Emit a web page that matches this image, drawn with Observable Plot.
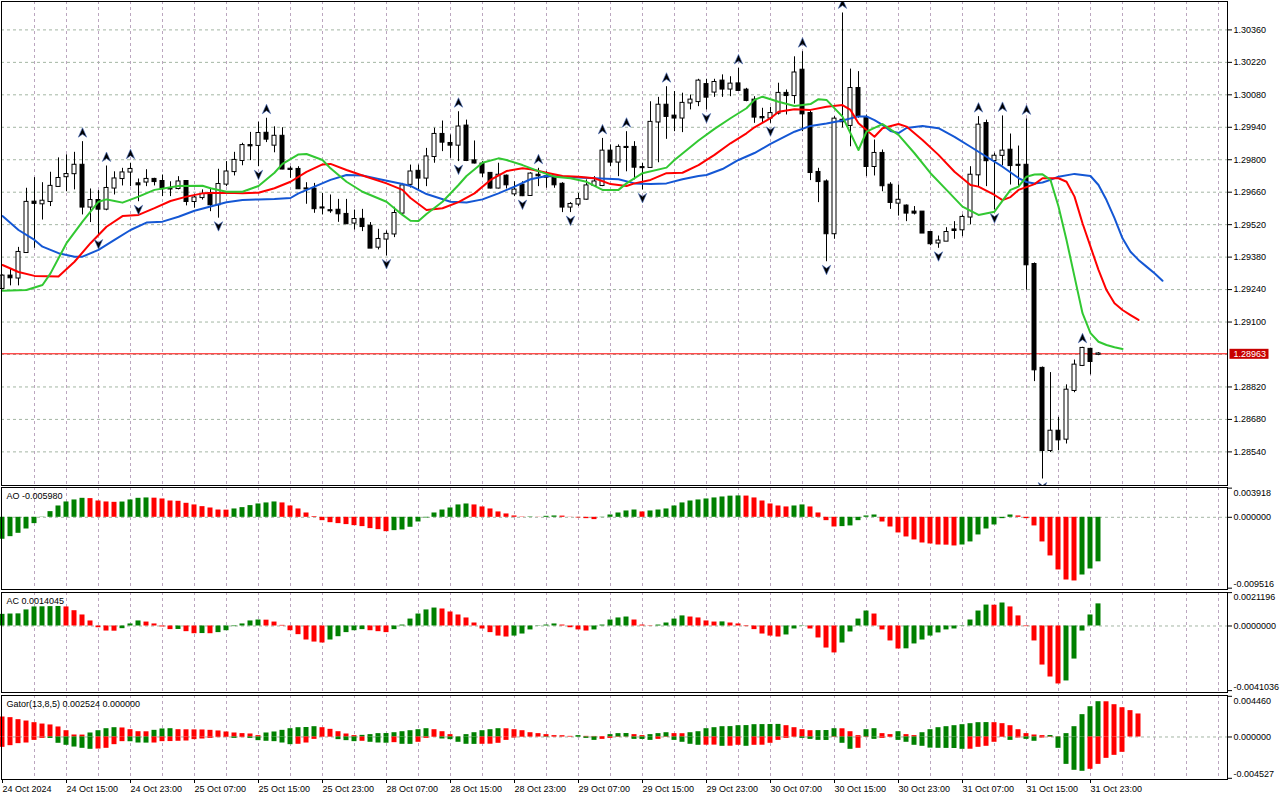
<!DOCTYPE html>
<html><head><meta charset="utf-8">
<script src="https://cdn.jsdelivr.net/npm/d3@7"></script>
<script src="https://cdn.jsdelivr.net/npm/@observablehq/plot@0.6"></script>
<style>
body{margin:0;background:#fff;}
#chart{position:relative;width:1280px;height:800px;overflow:hidden;background:#fff;}
</style>
</head><body><div id="chart"></div>
<script>
// ---------- DATA (H1 bars, 24 Oct 2024 07:00 ... 1 Nov 00:00) ----------
const open = [1.29244,1.29299,1.29289,1.29399,1.29618,1.29609,1.29619,1.29684,1.29726,1.29739,
1.29777,1.29595,1.29625,1.29586,1.29677,1.29718,1.29746,1.29697,1.29703,1.29716,
1.29707,1.29674,1.29675,1.29707,1.29619,1.29636,1.29655,1.29605,1.29694,1.29748,
1.29796,1.29862,1.29861,1.29915,1.29862,1.29902,1.29760,1.29759,1.29675,1.29674,
1.29593,1.29581,1.29583,1.29565,1.29526,1.29544,1.29514,1.29422,1.29457,1.29479,
1.29569,1.29693,1.29751,1.29720,1.29813,1.29910,1.29871,1.29862,1.29946,1.29796,
1.29782,1.29742,1.29677,1.29730,1.29652,1.29691,1.29645,1.29734,1.29727,1.29720,
1.29695,1.29595,1.29608,1.29629,1.29688,1.29688,1.29838,1.29789,1.29854,1.29854,
1.29767,1.29766,1.29962,1.30036,1.29989,1.29979,1.30044,1.30050,1.30125,1.30091,
1.30140,1.30104,1.30128,1.30101,1.30058,1.29983,1.29979,1.30000,1.30087,1.30076,
1.30187,1.30000,1.29746,1.29705,1.29480,1.29971,1.29947,1.30108,1.29979,1.29770,
1.29828,1.29691,1.29612,1.29601,1.29575,1.29575,1.29487,1.29440,1.29448,1.29498,
1.29497,1.29552,1.29734,1.29957,1.29796,1.29818,1.29842,1.29777,1.29777,1.29349,
1.28901,1.28545,1.28630,1.28594,1.28804,1.28912,1.28983,1.28960];
const high = [1.29303,1.29329,1.29422,1.29677,1.29723,1.29701,1.29746,1.29808,1.29821,1.29832,
1.29878,1.29674,1.29667,1.29773,1.29748,1.29763,1.29785,1.29717,1.29757,1.29720,
1.29734,1.29705,1.29727,1.29708,1.29651,1.29670,1.29677,1.29759,1.29792,1.29832,
1.29871,1.29918,1.29962,1.29979,1.29942,1.29938,1.29770,1.29770,1.29701,1.29698,
1.29655,1.29648,1.29629,1.29629,1.29583,1.29586,1.29529,1.29500,1.29493,1.29595,
1.29698,1.29777,1.29777,1.29849,1.29936,1.29967,1.29907,1.30007,1.29971,1.29881,
1.29792,1.29744,1.29785,1.29734,1.29705,1.29705,1.29744,1.29763,1.29748,1.29727,
1.29701,1.29615,1.29655,1.29713,1.29727,1.29892,1.29864,1.29864,1.29921,1.29878,
1.29785,1.30050,1.30069,1.30115,1.30094,1.30087,1.30079,1.30147,1.30147,1.30147,
1.30166,1.30158,1.30194,1.30108,1.30072,1.30022,1.30026,1.30130,1.30101,1.30244,
1.30266,1.30015,1.29763,1.29713,1.29986,1.30433,1.30191,1.30180,1.29993,1.29885,
1.29842,1.29701,1.29691,1.29605,1.29598,1.29576,1.29488,1.29471,1.29507,1.29533,
1.29562,1.29770,1.29986,1.29971,1.29828,1.29989,1.29911,1.29859,1.29976,1.29355,
1.28906,1.28882,1.28689,1.28829,1.28936,1.28991,1.28987,1.28968];
const low = [1.29240,1.29256,1.29256,1.29397,1.29418,1.29540,1.29598,1.29681,1.29662,1.29670,
1.29562,1.29529,1.29471,1.29580,1.29648,1.29687,1.29684,1.29619,1.29684,1.29687,
1.29641,1.29641,1.29670,1.29601,1.29591,1.29626,1.29576,1.29548,1.29684,1.29730,
1.29774,1.29796,1.29770,1.29874,1.29830,1.29757,1.29720,1.29673,1.29608,1.29569,
1.29562,1.29569,1.29530,1.29522,1.29497,1.29490,1.29417,1.29411,1.29385,1.29464,
1.29566,1.29678,1.29670,1.29684,1.29785,1.29835,1.29806,1.29792,1.29792,1.29782,
1.29723,1.29674,1.29674,1.29674,1.29641,1.29641,1.29644,1.29684,1.29677,1.29677,
1.29572,1.29572,1.29598,1.29626,1.29684,1.29684,1.29770,1.29727,1.29748,1.29713,
1.29670,1.29763,1.29787,1.29888,1.29921,1.29917,1.30015,1.30029,1.30015,1.30069,
1.30069,1.30072,1.30097,1.30050,1.29957,1.29957,1.29957,1.29993,1.29993,1.30040,
1.29921,1.29710,1.29615,1.29360,1.29457,1.29937,1.29856,1.29979,1.29727,1.29730,
1.29662,1.29586,1.29557,1.29533,1.29562,1.29482,1.29429,1.29418,1.29447,1.29457,
1.29468,1.29519,1.29684,1.29684,1.29583,1.29774,1.29691,1.29684,1.29238,1.28843,
1.28423,1.28537,1.28545,1.28574,1.28795,1.28908,1.28872,1.28955];
const close = [1.29299,1.29290,1.29401,1.29617,1.29611,1.29622,1.29686,1.29720,1.29737,1.29777,
1.29595,1.29625,1.29586,1.29677,1.29718,1.29744,1.29759,1.29691,1.29716,1.29705,
1.29674,1.29673,1.29705,1.29619,1.29636,1.29651,1.29605,1.29694,1.29748,1.29798,
1.29862,1.29859,1.29914,1.29888,1.29902,1.29759,1.29757,1.29674,1.29673,1.29588,
1.29591,1.29579,1.29566,1.29523,1.29543,1.29511,1.29418,1.29457,1.29479,1.29569,
1.29688,1.29748,1.29720,1.29813,1.29910,1.29875,1.29862,1.29942,1.29796,1.29785,
1.29742,1.29677,1.29734,1.29691,1.29670,1.29644,1.29739,1.29730,1.29724,1.29691,
1.29595,1.29608,1.29629,1.29688,1.29705,1.29838,1.29789,1.29854,1.29852,1.29767,
1.29765,1.29962,1.30036,1.29986,1.29979,1.30044,1.30058,1.30140,1.30069,1.30134,
1.30104,1.30127,1.30098,1.30055,1.29983,1.29980,1.30000,1.30087,1.30076,1.30175,
1.29997,1.29744,1.29705,1.29480,1.29976,1.29963,1.30108,1.29986,1.29770,1.29828,
1.29687,1.29615,1.29626,1.29569,1.29569,1.29483,1.29437,1.29450,1.29487,1.29494,
1.29552,1.29734,1.29950,1.29795,1.29816,1.29838,1.29774,1.29775,1.29346,1.28893,
1.28545,1.28630,1.28591,1.28807,1.28915,1.28987,1.28929,1.28963];

// Alligator (13,8,5) lines, [bar, price] vertices (shifted forward)
const jaw = [[0,1.29557],[2,1.29497],[4,1.29454],[5,1.29425],[7,1.29397],[9,1.29382],[10,1.29382],[12,1.29411],[14,1.29454],[16,1.29497],[18,1.29529],[20,1.29533],[22,1.29554],[24,1.29580],[26,1.29598],[28,1.29617],[30,1.29626],[32,1.29629],[34,1.29631],[36,1.29635],[37,1.29655],[39,1.29684],[41,1.29713],[43,1.29734],[45,1.29732],[47,1.29717],[50,1.29695],[51,1.29687],[53,1.29652],[56,1.29619],[58,1.29616],[60,1.29629],[62,1.29655],[64,1.29684],[66,1.29716],[68,1.29730],[70,1.29727],[72,1.29723],[74,1.29720],[77,1.29716],[79,1.29698],[81,1.29695],[83,1.29698],[85,1.29716],[87,1.29730],[88,1.29734],[90,1.29760],[92,1.29799],[94,1.29829],[96,1.29868],[99,1.29921],[101,1.29946],[103,1.29956],[105,1.29969],[107,1.29987],[108,1.29987],[109,1.29971],[110,1.29950],[111,1.29924],[112,1.29915],[113,1.29937],[115,1.29946],[117,1.29936],[119,1.29899],[121,1.29856],[123,1.29813],[125,1.29770],[127,1.29721],[128,1.29704],[129,1.29698],[130,1.29702],[131,1.29713],[132,1.29727],[134,1.29739],[136,1.29730],[137,1.29691],[138,1.29626],[139,1.29548],[140,1.29461],[141,1.29403],[142,1.29368],[143,1.29339],[144,1.29310],[145,1.29278]];
const teeth = [[0,1.29346],[2,1.29316],[4,1.29299],[7,1.29296],[9,1.29360],[11,1.29440],[13,1.29511],[15,1.29557],[17,1.29562],[19,1.29591],[21,1.29622],[23,1.29641],[25,1.29655],[28,1.29658],[30,1.29655],[32,1.29658],[34,1.29677],[36,1.29705],[38,1.29748],[40,1.29780],[41,1.29782],[43,1.29756],[45,1.29732],[48,1.29698],[50,1.29670],[51,1.29635],[53,1.29583],[55,1.29591],[57,1.29617],[59,1.29655],[61,1.29713],[63,1.29751],[65,1.29763],[66,1.29759],[68,1.29744],[70,1.29730],[72,1.29727],[74,1.29720],[76,1.29695],[78,1.29687],[79,1.29698],[81,1.29713],[83,1.29742],[85,1.29744],[87,1.29777],[89,1.29821],[91,1.29871],[93,1.29914],[94,1.29940],[96,1.29979],[97,1.30007],[99,1.30018],[101,1.30015],[103,1.30029],[105,1.30036],[106,1.30015],[107,1.29957],[109,1.29899],[110,1.29936],[112,1.29954],[113,1.29943],[115,1.29885],[117,1.29821],[119,1.29748],[121,1.29691],[122,1.29684],[124,1.29648],[125,1.29626],[126,1.29639],[127,1.29670],[129,1.29695],[130,1.29720],[132,1.29720],[133,1.29705],[134,1.29641],[135,1.29526],[136,1.29425],[137,1.29325],[138,1.29238],[139,1.29181],[140,1.29152],[141,1.29130],[142,1.29109]];
const lips = [[0,1.29235],[3,1.29238],[5,1.29260],[6,1.29310],[8,1.29440],[10,1.29533],[12,1.29619],[13,1.29629],[14,1.29622],[15,1.29615],[17,1.29641],[19,1.29670],[22,1.29687],[25,1.29688],[26,1.29677],[28,1.29662],[30,1.29662],[32,1.29687],[34,1.29744],[35,1.29782],[36,1.29803],[37,1.29823],[38,1.29825],[40,1.29799],[41,1.29763],[43,1.29705],[45,1.29662],[48,1.29619],[50,1.29562],[51,1.29537],[52,1.29536],[53,1.29566],[55,1.29619],[57,1.29691],[58,1.29730],[60,1.29787],[62,1.29806],[63,1.29799],[65,1.29777],[67,1.29751],[69,1.29727],[71,1.29720],[73,1.29705],[75,1.29670],[77,1.29670],[78,1.29698],[80,1.29742],[83,1.29766],[84,1.29799],[87,1.29883],[89,1.29933],[91,1.29979],[93,1.30022],[94,1.30058],[95,1.30072],[97,1.30050],[99,1.30032],[101,1.30040],[102,1.30061],[103,1.30058],[105,1.29986],[107,1.29842],[108,1.29921],[110,1.29954],[112,1.29907],[114,1.29828],[116,1.29742],[118,1.29670],[120,1.29598],[122,1.29562],[124,1.29576],[126,1.29670],[127,1.29684],[128,1.29727],[129,1.29736],[130,1.29737],[131,1.29713],[132,1.29598],[133,1.29454],[134,1.29296],[135,1.29138],[136,1.29052],[137,1.29015],[138,1.29001],[139,1.28991],[140,1.28984]];

// Fractals (bar indices)
const fractalUp = [10,13,16,33,57,67,75,78,83,92,100,105,122,125,128,135];
const fractalDown = [12,17,27,32,48,57,65,71,80,88,96,103,117,124,130];

// Awesome Oscillator
const ao = [-0.00295,-0.00260,-0.00215,-0.00157,-0.00085,0.00003,0.00076,0.00152,0.00206,0.00233,
0.00255,0.00251,0.00219,0.00206,0.00201,0.00205,0.00233,0.00255,0.00260,0.00257,
0.00246,0.00219,0.00215,0.00188,0.00166,0.00143,0.00125,0.00098,0.00096,0.00112,
0.00130,0.00157,0.00179,0.00193,0.00206,0.00193,0.00152,0.00112,0.00058,0.00009,
-0.00045,-0.00072,-0.00085,-0.00098,-0.00112,-0.00125,-0.00152,-0.00166,-0.00193,-0.00179,
-0.00170,-0.00134,-0.00063,-0.00009,0.00058,0.00098,0.00125,0.00166,0.00179,0.00166,
0.00139,0.00112,0.00072,0.00045,0.00018,0.00004,0.00005,0.00002,0.00013,0.00018,
0.00016,-0.00002,-0.00009,-0.00018,-0.00031,-0.00004,0.00031,0.00058,0.00085,0.00098,
0.00072,0.00085,0.00098,0.00112,0.00152,0.00193,0.00219,0.00233,0.00246,0.00260,
0.00273,0.00284,0.00287,0.00285,0.00260,0.00219,0.00179,0.00152,0.00139,0.00152,
0.00166,0.00139,0.00058,-0.00045,-0.00130,-0.00125,-0.00116,-0.00045,0.00018,0.00031,
-0.00063,-0.00130,-0.00210,-0.00264,-0.00304,-0.00345,-0.00358,-0.00372,-0.00374,-0.00385,
-0.00372,-0.00331,-0.00237,-0.00157,-0.00103,-0.00018,0.00031,0.00018,-0.00018,-0.00116,
-0.00331,-0.00519,-0.00707,-0.00842,-0.00855,-0.00775,-0.00694,-0.00598];

// Accelerator Oscillator
const ac = [0.00074,0.00076,0.00077,0.00102,0.00121,0.00122,0.00123,0.00124,0.00121,0.00097,
0.00070,0.00032,-0.00011,-0.00032,-0.00033,-0.00017,0.00013,0.00032,0.00025,0.00013,
-0.00006,-0.00023,-0.00022,-0.00036,-0.00049,-0.00048,-0.00049,-0.00042,-0.00030,-0.00004,
0.00013,0.00032,0.00038,0.00037,0.00025,0.00004,-0.00030,-0.00055,-0.00089,-0.00102,
-0.00108,-0.00089,-0.00068,-0.00042,-0.00030,-0.00023,-0.00030,-0.00036,-0.00042,-0.00023,
0.00006,0.00044,0.00076,0.00102,0.00114,0.00108,0.00089,0.00070,0.00051,0.00019,
-0.00019,-0.00042,-0.00064,-0.00070,-0.00064,-0.00051,-0.00025,-0.00002,0.00006,0.00013,
0.00006,-0.00011,-0.00025,-0.00032,-0.00025,0.00006,0.00038,0.00051,0.00057,0.00038,
0.00006,0.00002,0.00006,0.00019,0.00044,0.00064,0.00057,0.00051,0.00032,0.00025,
0.00026,0.00019,0.00013,-0.00004,-0.00023,-0.00051,-0.00064,-0.00070,-0.00057,-0.00019,
-0.00002,-0.00019,-0.00076,-0.00140,-0.00171,-0.00108,-0.00038,0.00044,0.00095,0.00076,
-0.00025,-0.00095,-0.00146,-0.00145,-0.00114,-0.00089,-0.00064,-0.00044,-0.00025,-0.00019,
-0.00002,0.00038,0.00095,0.00133,0.00132,0.00146,0.00121,0.00064,-0.00004,-0.00095,
-0.00248,-0.00324,-0.00368,-0.00349,-0.00210,-0.00032,0.00070,0.0014045];

// Gator (13,8,5): upper = |jaw-teeth|, lower = -|teeth-lips|
const gatorUp = [0.00219,0.00212,0.00190,0.00175,0.00157,0.00142,0.00132,0.00110,0.00069,0.00022,
0.00021,0.00044,0.00069,0.00091,0.00102,0.00099,0.00080,0.00058,0.00057,0.00073,
0.00088,0.00091,0.00080,0.00079,0.00078,0.00077,0.00073,0.00066,0.00055,0.00044,
0.00037,0.00033,0.00015,0.00044,0.00055,0.00073,0.00091,0.00102,0.00104,0.00113,
0.00102,0.00084,0.00058,0.00033,0.00015,0.00018,0.00026,0.00037,0.00038,0.00047,
0.00058,0.00069,0.00080,0.00091,0.00080,0.00058,0.00026,0.00002,0.00026,0.00047,
0.00069,0.00080,0.00091,0.00090,0.00080,0.00069,0.00047,0.00037,0.00026,0.00015,
0.00014,0.00007,0.00015,0.00007,0.00006,0.00005,0.00026,0.00037,0.00038,0.00026,
0.00015,0.00026,0.00037,0.00047,0.00037,0.00036,0.00047,0.00058,0.00091,0.00102,
0.00113,0.00114,0.00124,0.00125,0.00135,0.00136,0.00137,0.00138,0.00124,0.00102,
0.00080,0.00069,0.00070,0.00071,0.00091,0.00090,0.00058,0.00015,0.00080,0.00091,
0.00037,0.00026,0.00058,0.00026,0.00015,0.00047,0.00080,0.00102,0.00113,0.00124,
0.00135,0.00146,0.00157,0.00158,0.00157,0.00146,0.00124,0.00080,0.00037,0.00022,
0.00015,0.00016,0.00003,0.00037,0.00113,0.00245,0.00332,0.00387,0.00386,0.00354,
0.00321,0.00289,0.002524];
const gatorDown = [-0.00113,-0.00095,-0.00073,-0.00066,-0.00037,-0.00015,-0.00016,-0.00069,-0.00091,-0.00110,
-0.00124,-0.00135,-0.00132,-0.00124,-0.00084,-0.00051,-0.00052,-0.00066,-0.00067,-0.00066,
-0.00051,-0.00050,-0.00047,-0.00044,-0.00029,-0.00022,-0.00015,-0.00007,-0.00006,-0.00015,
-0.00007,-0.00015,-0.00040,-0.00047,-0.00051,-0.00066,-0.00084,-0.00080,-0.00066,-0.00026,
-0.00004,-0.00003,-0.00029,-0.00040,-0.00051,-0.00047,-0.00058,-0.00066,-0.00068,-0.00062,
-0.00080,-0.00081,-0.00058,-0.00015,-0.00004,-0.00022,-0.00029,-0.00058,-0.00080,-0.00081,
-0.00080,-0.00079,-0.00069,-0.00037,-0.00011,-0.00004,-0.00002,-0.00001,-0.00004,-0.00002,
-0.00001,-0.00001,-0.00004,-0.00015,-0.00037,-0.00026,-0.00015,-0.00004,-0.00002,-0.00026,
-0.00027,-0.00037,-0.00026,-0.00004,-0.00037,-0.00058,-0.00080,-0.00091,-0.00090,-0.00089,
-0.00102,-0.00101,-0.00091,-0.00102,-0.00091,-0.00090,-0.00069,-0.00037,-0.00015,-0.00003,
-0.00015,-0.00026,-0.00037,-0.00038,-0.00004,-0.00069,-0.00135,-0.00124,-0.00004,-0.00026,
-0.00015,-0.00004,-0.00037,-0.00058,-0.00091,-0.00102,-0.00122,-0.00124,-0.00125,-0.00126,
-0.00135,-0.00134,-0.00113,-0.00102,-0.00058,-0.00004,-0.00037,-0.00011,-0.00026,-0.00047,
-0.00011,-0.00004,-0.00124,-0.00300,-0.00365,-0.00376,-0.00354,-0.00300,-0.00234,-0.00201,
-0.00168,0,0];

// Axis ticks / labels
const priceTicks = [1.28540,1.28680,1.28820,1.28960,1.29100,1.29240,1.29380,1.29520,1.29660,1.29800,1.29940,1.30080,1.30220,1.30360];
const aoTicks = [0.003918, 0, -0.009516];
const aoTickText = ["0.003918","0.000000","-0.009516"];
const acTicks = [0.0021196, 0, -0.0041036];
const acTickText = ["0.0021196","0.0000000","-0.0041036"];
const gatorTicks = [0.004460, 0, -0.004527];
const gatorTickText = ["0.004460","0.000000","-0.004527"];
const xLabelIdx = [0,8,16,24,32,40,48,56,64,72,80,88,96,104,112,120,128,136];
const xLabels = ["24 Oct 2024","24 Oct 15:00","24 Oct 23:00","25 Oct 07:00","25 Oct 15:00","25 Oct 23:00","28 Oct 07:00","28 Oct 15:00","28 Oct 23:00","29 Oct 07:00","29 Oct 15:00","29 Oct 23:00","30 Oct 07:00","30 Oct 15:00","30 Oct 23:00","31 Oct 07:00","31 Oct 15:00","31 Oct 23:00"];

// ---------- DRAWING ----------
const GREEN = "#008000", RED = "#ff0000";
const vGrid = "#bba6bf", hGrid = "#a4b6a4", DASH = "3,3";
const gridIdx = d3.range(4, 153, 4);
const root = document.getElementById("chart");
const FONT = "'Liberation Sans', Arial, sans-serif";
const common = {
  width: 1280, marginLeft: 1, marginRight: 53,
  x: {domain: [-0.125, 153.125], axis: null},
  color: {type: "identity"},
  style: {fontFamily: FONT, fontSize: "9px", color: "black", background: "white"}
};
function place(svg, top) {
  svg.style.position = "absolute"; svg.style.left = "0px"; svg.style.top = top + "px";
  root.appendChild(svg);
}
function rightLabels(vals, texts) {
  const dys = [4.5, 0, -4];
  return vals.map((v, k) => Plot.text([v], {y: d => d, text: () => texts[k], frameAnchor: "right", dx: 6, dy: dys[k], textAnchor: "start", fill: "black"}));
}

const bars = open.map((o, i) => ({i, o, h: high[i], l: low[i], c: close[i]}));
const arrowUp = {draw(ctx) { ctx.moveTo(0, -5); ctx.lineTo(4.2, 4.5); ctx.lineTo(0, 1.5); ctx.lineTo(-4.2, 4.5); ctx.closePath(); }};
const arrowDown = {draw(ctx) { ctx.moveTo(0, 5); ctx.lineTo(4.2, -4.5); ctx.lineTo(0, -1.5); ctx.lineTo(-4.2, -4.5); ctx.closePath(); }};
const last = close[close.length - 1];

const main = Plot.plot({
  ...common, height: 487, marginTop: 1, marginBottom: 2,
  y: {domain: [1.283950, 1.304825], axis: null},
  marks: [
    Plot.ruleX(gridIdx, {stroke: vGrid, strokeDasharray: DASH}),
    Plot.ruleY(priceTicks, {stroke: hGrid, strokeDasharray: DASH}),
    Plot.ruleY([last], {stroke: "#ff0000"}),
    Plot.ruleX(bars, {x: "i", y1: "l", y2: "h", stroke: "black"}),
    Plot.rect(bars, {x1: d => d.i - 0.25, x2: d => d.i + 0.25, y1: "o", y2: "c",
      fill: d => d.c >= d.o ? "white" : "black", stroke: "black", insetTop: -0.3, insetBottom: -0.3}),
    Plot.line(jaw, {x: d => d[0], y: d => d[1], stroke: "#1457d4", strokeWidth: 2}),
    Plot.line(teeth, {x: d => d[0], y: d => d[1], stroke: "#ff0000", strokeWidth: 2}),
    Plot.line(lips, {x: d => d[0], y: d => d[1], stroke: "#32c832", strokeWidth: 2}),
    Plot.dot(fractalUp, {x: d => d, y: d => high[d], dy: -9, r: 5, symbol: arrowUp, fill: "#000", stroke: "#4a6fc0", strokeWidth: 0.6, clip: true}),
    Plot.dot(fractalDown, {x: d => d, y: d => low[d], dy: 8, r: 5, symbol: arrowDown, fill: "#000", stroke: "#4a6fc0", strokeWidth: 0.6, clip: true}),
    Plot.axisY({anchor: "right", ticks: priceTicks.filter(v => Math.abs(v - 1.2896) > 1e-7), tickFormat: d => d.toFixed(5), tickSize: 4, tickPadding: 2, label: null}),
    Plot.frame({stroke: "black"})
  ]
});
place(main, 0);
// current price tag, positioned through the plot's y scale
{
  const yy = main.scale("y").apply(last) + 0.5;
  const s = d3.select(main);
  s.append("rect").attr("x", 1229.5).attr("y", yy - 5).attr("width", 39).attr("height", 10).attr("fill", "#c80000");
  s.append("text").attr("x", 1233.5).attr("y", yy).attr("dy", "0.34em")
    .attr("text-anchor", "start").attr("fill", "white")
    .style("font-family", FONT).style("font-size", "9px").text(last.toFixed(5));
}

function histPane(values, colorOf) {
  return Plot.rect(values.map((v, i) => ({i, v, col: colorOf(v, i)})), {
    x1: d => d.i - 0.3125, x2: d => d.i + 0.3125, y1: () => 0, y2: "v", fill: "col"});
}

const aoPlot = Plot.plot({
  ...common, height: 103, marginTop: 0, marginBottom: 1,
  y: {domain: [-0.009696, 0.004002], axis: null},
  marks: [
    Plot.ruleX(gridIdx, {stroke: vGrid, strokeDasharray: DASH}),
    Plot.ruleY([0], {stroke: hGrid, strokeDasharray: DASH}),
    histPane(ao, (v, i) => i === 0 || v > ao[i - 1] ? GREEN : RED),
    Plot.text([`AO ${ao[ao.length - 1].toFixed(6)}`], {frameAnchor: "top-left", dx: 5, dy: 5, lineAnchor: "top", textAnchor: "start", fill: "black"}),
    Plot.axisY({anchor: "right", ticks: aoTicks, tickFormat: () => "", tickSize: 4, label: null}),
    ...rightLabels(aoTicks, aoTickText),
    Plot.frame({stroke: "black"})
  ]
});
place(aoPlot, 487);

const acPlot = Plot.plot({
  ...common, height: 101, marginTop: 0, marginBottom: 1,
  y: {domain: [-0.004223, 0.002127], axis: null},
  marks: [
    Plot.ruleX(gridIdx, {stroke: vGrid, strokeDasharray: DASH}),
    Plot.ruleY([0], {stroke: hGrid, strokeDasharray: DASH}),
    histPane(ac, (v, i) => i === 0 || v > ac[i - 1] ? GREEN : RED),
    Plot.text([`AC ${ac[ac.length - 1].toFixed(7)}`], {frameAnchor: "top-left", dx: 5, dy: 5, lineAnchor: "top", textAnchor: "start", fill: "black"}),
    Plot.axisY({anchor: "right", ticks: acTicks, tickFormat: () => "", tickSize: 4, label: null}),
    ...rightLabels(acTicks, acTickText),
    Plot.frame({stroke: "black"})
  ]
});
place(acPlot, 592);

const gN = gatorUp.length - 1;
const gatorPlot = Plot.plot({
  ...common, height: 105, marginTop: 0, marginBottom: 21,
  y: {domain: [-0.004658, 0.004548], axis: null},
  marks: [
    Plot.ruleX(gridIdx, {stroke: vGrid, strokeDasharray: DASH}),
    Plot.ruleY([0], {stroke: hGrid, strokeDasharray: DASH}),
    histPane(gatorUp, (v, i) => i > 0 && v > gatorUp[i - 1] ? GREEN : RED),
    histPane(gatorDown, (v, i) => i > 0 && v < gatorDown[i - 1] ? GREEN : RED),
    Plot.text([`Gator(13,8,5) ${gatorUp[gN].toFixed(6)} ${Math.abs(gatorDown[gN]).toFixed(6)}`], {frameAnchor: "top-left", dx: 5, dy: 5, lineAnchor: "top", textAnchor: "start", fill: "black"}),
    Plot.axisY({anchor: "right", ticks: gatorTicks, tickFormat: () => "", tickSize: 4, label: null}),
    ...rightLabels(gatorTicks, gatorTickText),
    Plot.axisX({anchor: "bottom", ticks: xLabelIdx, tickFormat: d => xLabels[xLabelIdx.indexOf(d)], tickSize: 4, tickPadding: 2, textAnchor: "start", label: null}),
    Plot.frame({stroke: "black"})
  ]
});
place(gatorPlot, 695);
</script></body></html>
